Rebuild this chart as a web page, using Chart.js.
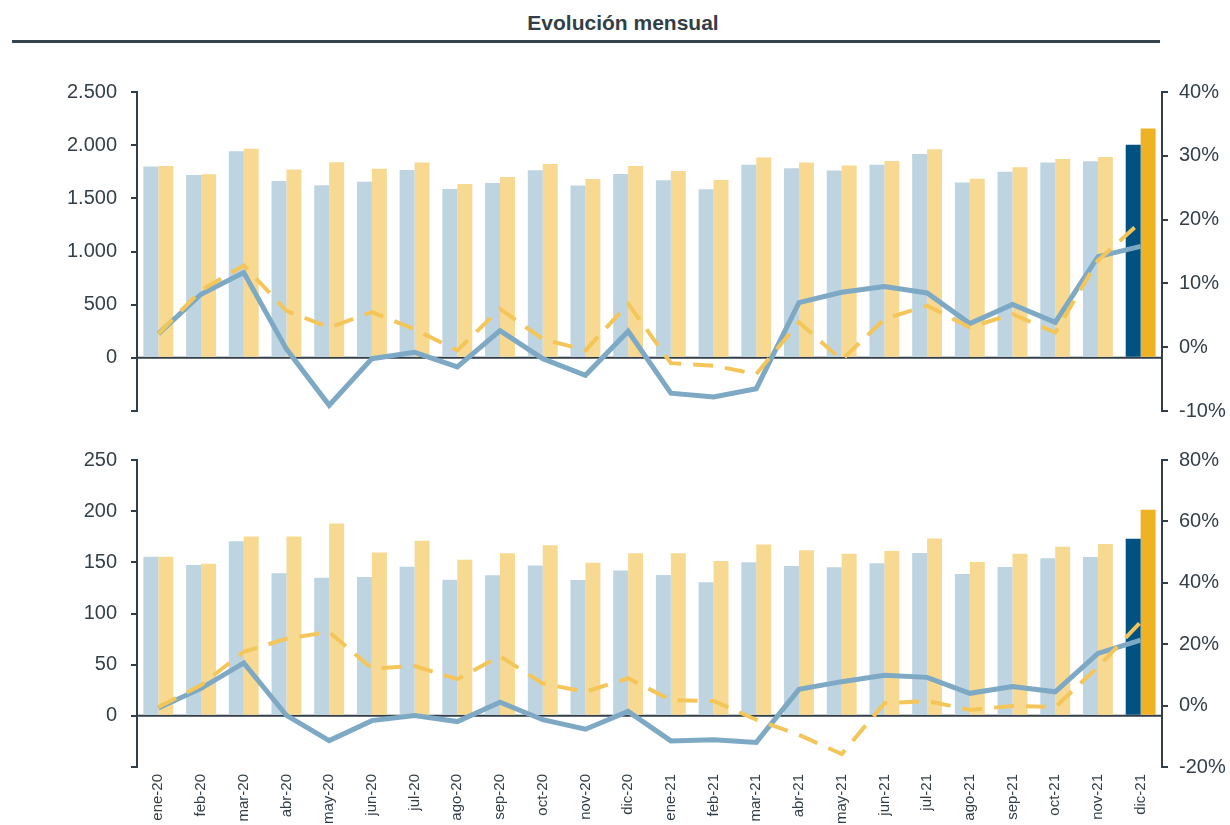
<!DOCTYPE html>
<html>
<head>
<meta charset="utf-8">
<script src="https://cdn.jsdelivr.net/npm/chart.js@4.4.1/dist/chart.umd.min.js"></script>
<style>
  html, body { margin: 0; padding: 0; background: #ffffff; }
  body { width: 1230px; height: 825px; position: relative; overflow: hidden; font-family: "Liberation Sans", Arial, sans-serif; }
  #title { position: absolute; left: 0; width: 1246px; top: 11px; text-align: center; font-weight: bold; font-size: 21px; color: #333F48; }
  #rule { position: absolute; left: 12px; width: 1148px; top: 40px; height: 3px; background: #36454F; }
  canvas { position: absolute; left: 0; }
  #c1 { top: 60px; }
  #c2 { top: 434px; }
</style>
</head>
<body>
<div id="title">Evolución mensual</div>
<div id="rule"></div>
<canvas id="c1" width="1230" height="377"></canvas>
<canvas id="c2" width="1230" height="391"></canvas>
<script>
// ---------- DATA ----------
const categories = ['ene-20','feb-20','mar-20','abr-20','may-20','jun-20','jul-20','ago-20','sep-20','oct-20','nov-20','dic-20',
                    'ene-21','feb-21','mar-21','abr-21','may-21','jun-21','jul-21','ago-21','sep-21','oct-21','nov-21','dic-21'];

// Top panel (left axis: units)
const topBarsBlue = [1800,1720,1942,1663,1623,1657,1767,1588,1645,1764,1620,1729,1670,1585,1817,1783,1761,1817,1917,1648,1751,1836,1848,2005];
const topBarsGold = [1805,1726,1967,1770,1839,1779,1836,1635,1701,1823,1682,1805,1757,1673,1883,1836,1808,1852,1961,1685,1792,1870,1889,2157];
// Top panel (right axis: %)
const topLineBlue = [2.1,8.3,11.7,-0.3,-9.1,-1.8,-0.8,-3.1,2.6,-1.8,-4.4,2.5,-7.2,-7.8,-6.5,7.0,8.6,9.5,8.5,3.7,6.7,3.9,14.2,15.8];
const topLineGold = [2.1,8.9,12.8,5.7,3.1,5.5,2.8,-0.5,6.0,1.3,-0.5,6.8,-2.5,-2.9,-4.2,3.9,-2.0,4.4,6.5,3.1,5.2,2.3,13.6,19.6];

// Bottom panel (left axis: units)
const bottomBarsBlue = [155.5,147.4,170.5,139.3,135,135.7,145.8,133,137.3,147,132.8,141.9,137.7,130.5,150,146.4,145.1,149,159,138.6,145.5,153.9,155.2,173];
const bottomBarsGold = [155.5,148.7,175.3,175.3,188,159.7,171,152.6,158.8,166.6,149.7,158.8,158.8,151.3,167.5,161.7,158.4,161,173.4,150.3,158.4,165.3,167.9,201.3];
// Bottom panel (right axis: %)
const bottomLineBlue = [-0.8,5.6,13.9,-3.2,-11.4,-4.9,-3.2,-5.2,1.1,-4.6,-7.7,-1.9,-11.5,-11.1,-12.0,5.3,7.8,9.9,9.2,4.0,6.2,4.5,17.0,21.3];
const bottomLineGold = [-0.5,6.7,17.5,21.8,24.0,12.1,12.9,8.6,16.1,7.2,4.5,8.9,1.8,1.5,-4.6,-9.5,-15.8,0.8,1.5,-1.4,-0.1,-0.5,12.6,27.2];

// Tick labels
const topLeftTicks = ['', '0', '500', '1.000', '1.500', '2.000', '2.500'];
const topRightTicks = ['-10%', '0%', '10%', '20%', '30%', '40%'];
const bottomLeftTicks = ['', '0', '50', '100', '150', '200', '250'];
const bottomRightTicks = ['-20%', '0%', '20%', '40%', '60%', '80%'];

// ---------- STYLE ----------
const AXIS = '#333F48';
const LIGHT_BLUE = '#BFD4E1';
const LIGHT_GOLD = '#F7D991';
const DARK_BLUE = '#005282';
const GOLD = '#EEB223';
const LINE_BLUE = '#7EA9C4';
const LINE_GOLD = '#F4C659';
const FONT = '"Liberation Sans", Arial, sans-serif';

const zeroLine = {
  id: 'zeroLine',
  beforeDatasetsDraw(chart) {
    const y = chart.scales.y.getPixelForValue(0);
    const a = chart.chartArea;
    const ctx = chart.ctx;
    ctx.save();
    ctx.strokeStyle = AXIS;
    ctx.lineWidth = 2;
    ctx.beginPath();
    ctx.moveTo(a.left, y);
    ctx.lineTo(a.right, y);
    ctx.stroke();
    ctx.restore();
  }
};

function barColor(light, dark) {
  return (c) => c.dataIndex === categories.length - 1 ? dark : light;
}

function makeChart(id, cfg) {
  return new Chart(document.getElementById(id), {
    data: {
      labels: categories,
      datasets: [
        { type: 'line', data: cfg.lineGold, yAxisID: 'y1', borderColor: LINE_GOLD, borderWidth: 4,
          borderDash: [20, 12], pointRadius: 0, tension: 0, order: 0 },
        { type: 'line', data: cfg.lineBlue, yAxisID: 'y1', borderColor: LINE_BLUE, borderWidth: 5,
          pointRadius: 0, tension: 0, order: 1, borderJoinStyle: 'miter' },
        { type: 'bar', data: cfg.barsBlue, yAxisID: 'y', backgroundColor: barColor(LIGHT_BLUE, DARK_BLUE),
          categoryPercentage: 0.70, barPercentage: 1.0, order: 2 },
        { type: 'bar', data: cfg.barsGold, yAxisID: 'y', backgroundColor: barColor(LIGHT_GOLD, GOLD),
          categoryPercentage: 0.70, barPercentage: 1.0, order: 3 }
      ]
    },
    options: {
      responsive: false,
      animation: false,
      events: [],
      layout: { padding: { top: cfg.padTop, bottom: cfg.padBottom, left: 0, right: 0 } },
      plugins: { legend: { display: false }, tooltip: { enabled: false }, title: { display: false } },
      scales: {
        x: {
          type: 'category',
          offset: true,
          display: cfg.showX,
          grid: { display: false, drawTicks: false },
          border: { display: false },
          ticks: { color: AXIS, font: { family: FONT, size: 15 }, minRotation: 90, maxRotation: 90, padding: 7, autoSkip: false },
          afterFit: (s) => { if (cfg.showX) s.height = cfg.xHeight; }
        },
        y: {
          position: 'left',
          min: cfg.leftMin, max: cfg.leftMax,
          ticks: { stepSize: cfg.leftStep, color: AXIS, font: { family: FONT, size: 20 }, padding: 14,
                   callback: (v, i) => cfg.leftTicks[i] },
          grid: { drawOnChartArea: false, drawTicks: true, tickLength: 6, color: AXIS, lineWidth: 2 },
          border: { display: true, color: AXIS, width: 2 },
          afterFit: (s) => { s.width = 137; }
        },
        y1: {
          position: 'right',
          min: cfg.rightMin, max: cfg.rightMax,
          ticks: { stepSize: cfg.rightStep, color: AXIS, font: { family: FONT, size: 20 }, padding: 11,
                   callback: (v, i) => cfg.rightTicks[i] },
          grid: { drawOnChartArea: false, drawTicks: true, tickLength: 6, color: AXIS, lineWidth: 2 },
          border: { display: true, color: AXIS, width: 2 },
          afterFit: (s) => { s.width = 68; }
        }
      }
    },
    plugins: [zeroLine]
  });
}

makeChart('c1', {
  barsBlue: topBarsBlue, barsGold: topBarsGold, lineBlue: topLineBlue, lineGold: topLineGold,
  leftMin: -500, leftMax: 2500, leftStep: 500, leftTicks: topLeftTicks,
  rightMin: -10, rightMax: 40, rightStep: 10, rightTicks: topRightTicks,
  padTop: 32, padBottom: 13, showX: false, xHeight: 0
});

makeChart('c2', {
  barsBlue: bottomBarsBlue, barsGold: bottomBarsGold, lineBlue: bottomLineBlue, lineGold: bottomLineGold,
  leftMin: -50, leftMax: 250, leftStep: 50, leftTicks: bottomLeftTicks,
  rightMin: -20, rightMax: 80, rightStep: 20, rightTicks: bottomRightTicks,
  padTop: 13, padBottom: 0, showX: true, xHeight: 58
});
</script>
</body>
</html>
